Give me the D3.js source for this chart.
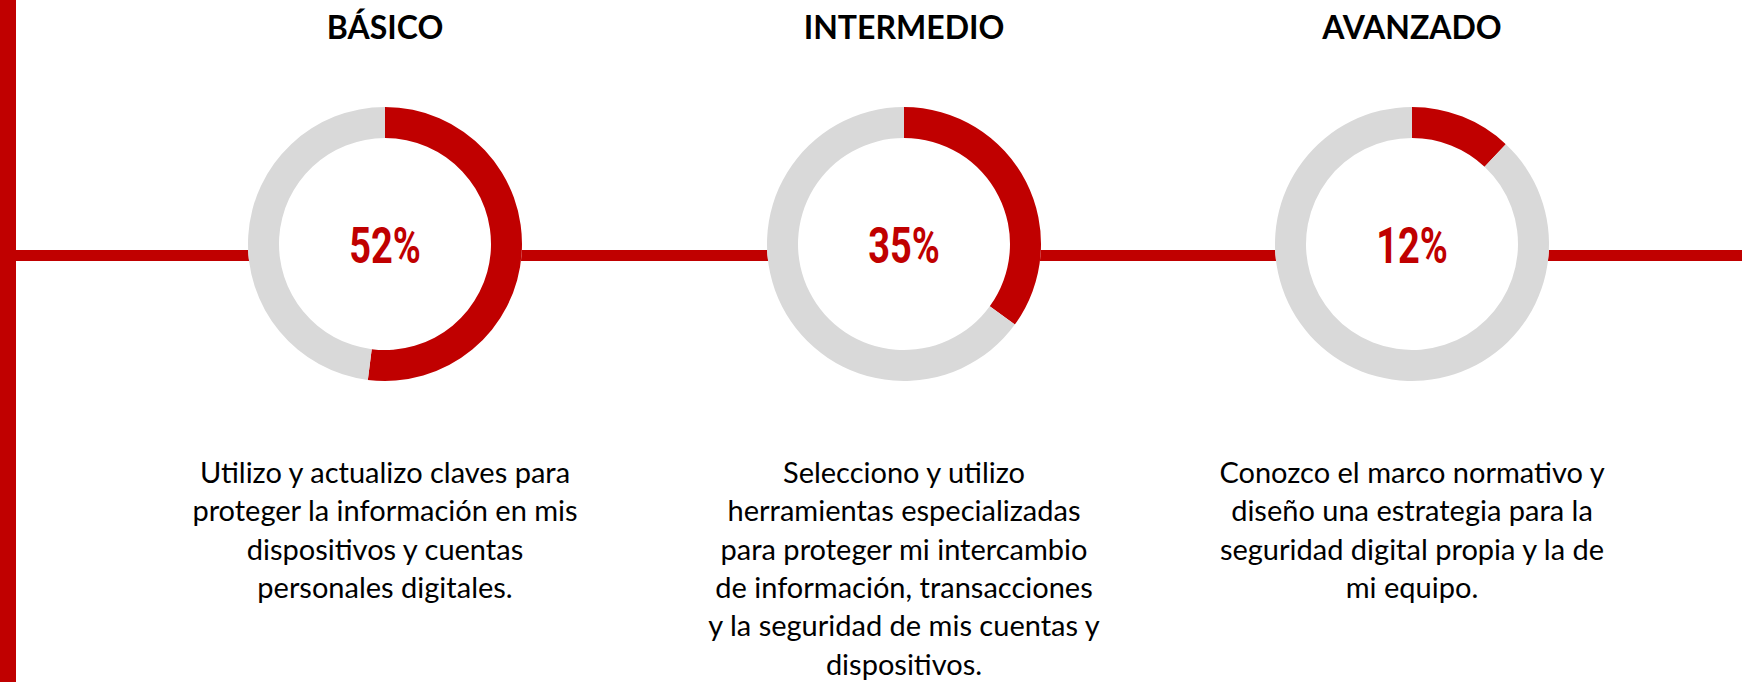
<!DOCTYPE html>
<html>
<head>
<meta charset="utf-8">
<script src="https://cdn.jsdelivr.net/npm/d3@7"></script>
<style>
  html, body { margin: 0; padding: 0; background: #fff; }
  svg { display: block; }
</style>
</head>
<body>
<svg id="chart" width="1742" height="682"></svg>
<script>
// levels and their share
var levels = ["BÁSICO", "INTERMEDIO", "AVANZADO"];
var percents = [52, 35, 12];
var descriptions = [
  ["Utilizo y actualizo claves para", "proteger la información en mis", "dispositivos y cuentas", "personales digitales."],
  ["Selecciono y utilizo", "herramientas especializadas", "para proteger mi intercambio", "de información, transacciones", "y la seguridad de mis cuentas y", "dispositivos."],
  ["Conozco el marco normativo y", "diseño una estrategia para la", "seguridad digital propia y la de", "mi equipo."]
];

var red = "#C00000";
var grey = "#D9D9D9";

var svg = d3.select("#chart"),
    width = +svg.attr("width"),
    height = +svg.attr("height");

var cy = 244,
    outerR = 137,
    innerR = 106,
    lineY = 255.5;

var x = d3.scaleOrdinal()
  .domain(levels)
  .range([385, 904, 1412]);

// timeline: vertical bar on the left + horizontal rule
svg.append("rect")
  .attr("x", 0).attr("y", 0)
  .attr("width", 16).attr("height", height)
  .attr("fill", red);

svg.append("rect")
  .attr("x", 16).attr("y", lineY - 5.5)
  .attr("width", width - 16).attr("height", 11)
  .attr("fill", red);

var pie = d3.pie().sort(null).value(d => d);
var arc = d3.arc().innerRadius(innerR).outerRadius(outerR);

var groups = svg.selectAll(".level")
  .data(levels)
  .enter().append("g")
  .attr("class", "level")
  .attr("transform", d => "translate(" + x(d) + ",0)");

// titles
groups.append("text")
  .attr("x", 0)
  .attr("y", 39)
  .attr("text-anchor", "middle")
  .style("font-family", "Lato, 'Open Sans', sans-serif")
  .style("font-weight", "bold")
  .style("font-size", "32px")
  .style("fill", "#000")
  .text(d => d);

// donuts
var donut = groups.append("g")
  .attr("transform", "translate(0," + cy + ")");

donut.append("circle")
  .attr("r", outerR)
  .attr("fill", "#fff");

donut.selectAll("path")
  .data((d, i) => pie([percents[i], 100 - percents[i]]))
  .enter().append("path")
  .attr("d", arc)
  .attr("fill", (d, i) => i === 0 ? red : grey);

// percentage label, condensed
groups.append("g")
  .attr("transform", "translate(0,263) scale(0.76,1)")
  .append("text")
  .attr("text-anchor", "middle")
  .style("font-family", "Roboto, sans-serif")
  .style("font-weight", "bold")
  .style("font-size", "50px")
  .style("fill", red)
  .text((d, i) => percents[i] + "%");

// descriptions
groups.append("text")
  .attr("text-anchor", "middle")
  .style("font-family", "Lato, 'Open Sans', sans-serif")
  .style("font-size", "29px")
  .style("fill", "#000")
  .selectAll("tspan")
  .data((d, i) => descriptions[i])
  .enter().append("tspan")
  .attr("x", 0)
  .attr("y", (d, i) => 483 + i * 38.3)
  .text(d => d);
</script>
</body>
</html>
